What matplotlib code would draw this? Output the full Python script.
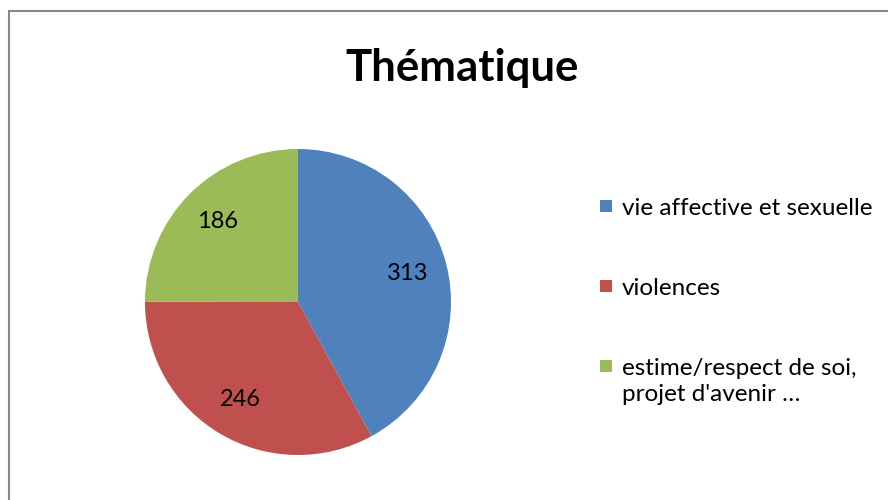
import matplotlib
matplotlib.use("Agg")
import matplotlib.pyplot as plt
from matplotlib.patches import Rectangle

plt.rcParams['font.family'] = ['Lato', 'DejaVu Sans']

# data
categories = ['vie affective et sexuelle', 'violences',
              "estime/respect de soi,\nprojet d'avenir \u2026"]
values = [313, 246, 186]
colors = ['#4F81BD', '#C0504D', '#9BBB59']
title = 'Thématique'

W, H = 888, 500
fig = plt.figure(figsize=(W / 100, H / 100), dpi=100)

# chart frame
fig.patches.append(Rectangle((9 / W, -0.1), 1.2, 1 - 11 / H + 0.1,
                             transform=fig.transFigure, fill=False,
                             edgecolor='#868686', linewidth=1.5))

ax = fig.add_axes([145 / W, 45 / H, 306 / W, 306 / H])
wedges, texts, autotexts = ax.pie(
    values, colors=colors, startangle=90, counterclock=False,
    autopct=lambda p: '{:.0f}'.format(p * sum(values) / 100),
    pctdistance=0.74, radius=1.0,
    textprops={'fontsize': 17, 'color': 'black'})
ax.set_aspect('equal')
ax.set_xlim(-1, 1)
ax.set_ylim(-1, 1)

fig.text(462 / W, 1 - 68 / H, title, ha='center', va='center',
         fontsize=31.5, fontweight='bold')

# legend, one entry every 80 px, square next to the first line
for i, (lab, col) in enumerate(zip(categories, colors)):
    y = 206 + 80 * i
    fig.patches.append(Rectangle((600 / W, 1 - (y + 6) / H), 12 / W, 12 / H,
                                 transform=fig.transFigure, facecolor=col,
                                 edgecolor='none'))
    fig.text(622 / W, 1 - (y - 8) / H, lab, ha='left', va='top',
             fontsize=17.5, linespacing=1.3)

fig.savefig('out.png', dpi=100)
